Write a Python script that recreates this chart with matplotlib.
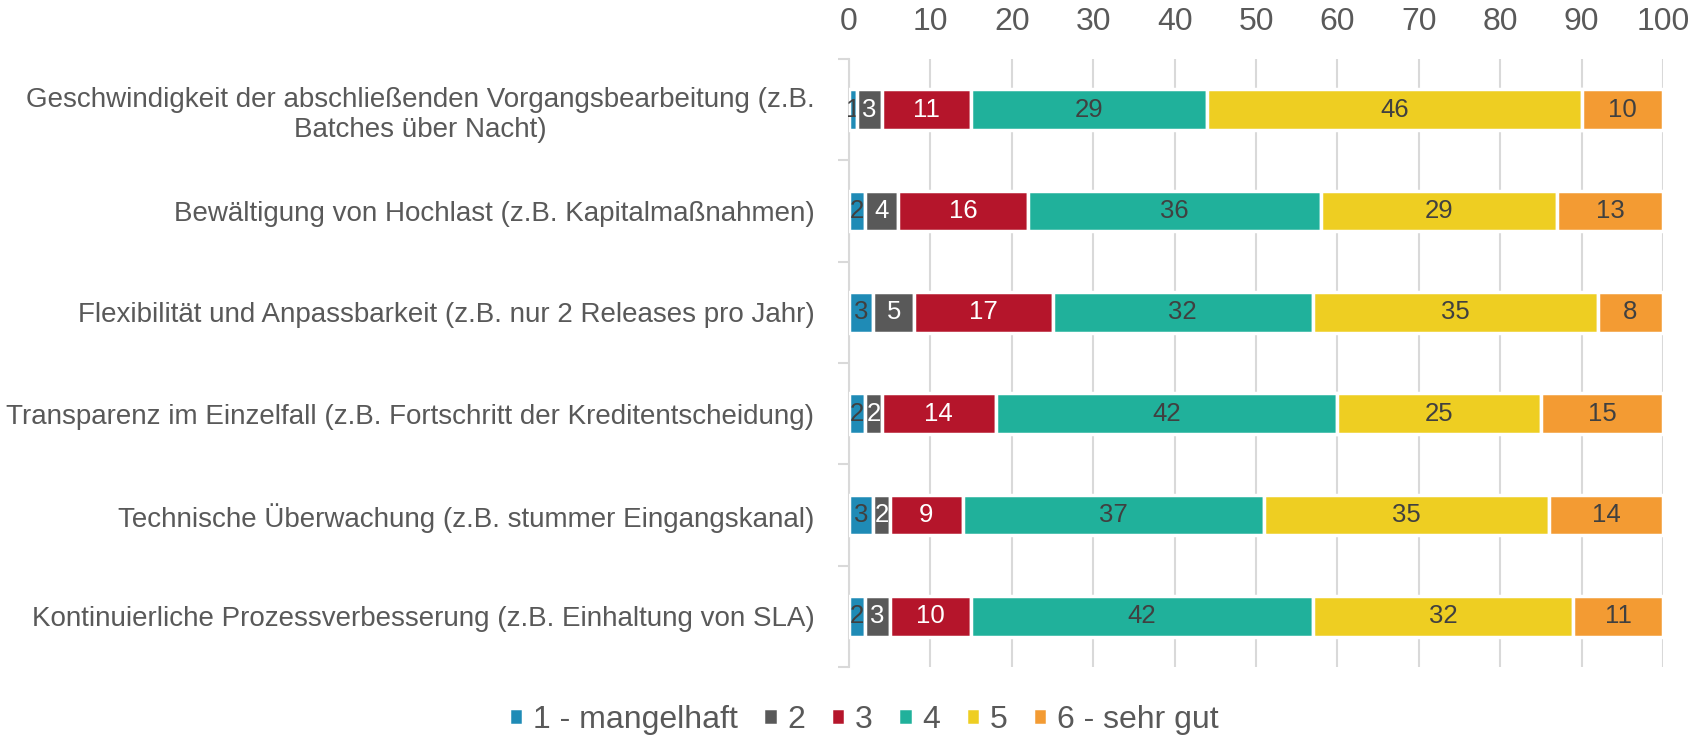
import matplotlib.pyplot as plt
import numpy as np

plt.rcParams['font.family'] = ['Liberation Sans', 'DejaVu Sans']

categories = [
    "Geschwindigkeit der abschließenden Vorgangsbearbeitung (z.B.\nBatches über Nacht)",
    "Bewältigung von Hochlast (z.B. Kapitalmaßnahmen)",
    "Flexibilität und Anpassbarkeit (z.B. nur 2 Releases pro Jahr)",
    "Transparenz im Einzelfall (z.B. Fortschritt der Kreditentscheidung)",
    "Technische Überwachung (z.B. stummer Eingangskanal)",
    "Kontinuierliche Prozessverbesserung (z.B. Einhaltung von SLA)",
]

serien = ["1 - mangelhaft", "2", "3", "4", "5", "6 - sehr gut"]

note_1 = [1, 2, 3, 2, 3, 2]
note_2 = [3, 4, 5, 2, 2, 3]
note_3 = [11, 16, 17, 14, 9, 10]
note_4 = [29, 36, 32, 42, 37, 42]
note_5 = [46, 29, 35, 25, 35, 32]
note_6 = [10, 13, 8, 15, 14, 11]

farben = ["#1F8BB6", "#595959", "#B5152B", "#20B19B", "#EECE22", "#F39B33"]
textfarben = ["#404040", "white", "white", "#404040", "#404040", "#404040"]

werte = [note_1, note_2, note_3, note_4, note_5, note_6]

fig = plt.figure(figsize=(17.07, 7.39), dpi=100)
ax = fig.add_axes([0.4974, 0.0974, 0.4768, 0.8228])

y = np.arange(len(categories))
links = np.zeros(len(categories))
for i, reihe in enumerate(werte):
    reihe = np.array(reihe, dtype=float)
    balken = ax.barh(y, reihe, left=links, height=0.4, color=farben[i],
                     edgecolor="white", linewidth=2.5, label=serien[i], zorder=3)
    ax.bar_label(balken, labels=[str(int(v)) for v in reihe], label_type="center",
                 color=textfarben[i], fontsize=18.5)
    links += reihe

ax.set_xlim(0, 100)
ax.set_ylim(len(categories) - 0.5, -0.5)
ax.set_xticks(np.arange(0, 101, 10))
ax.xaxis.tick_top()
ax.tick_params(axis="x", length=0, pad=15.5, labelsize=23, labelcolor="#595959")
ax.grid(axis="x", color="#D9D9D9", linewidth=1.5, zorder=0)

ax.set_yticks(y)
ax.set_yticklabels(categories)
ax.set_yticks(np.arange(-0.5, len(categories)), minor=True)
ax.tick_params(axis="y", which="major", length=0, pad=25, labelsize=20, labelcolor="#595959")
ax.tick_params(axis="y", which="minor", length=8, width=1.5, color="#D9D9D9")
for label in ax.get_yticklabels():
    label.set_multialignment("center")

for s in ["top", "right", "bottom"]:
    ax.spines[s].set_visible(False)
ax.spines["left"].set_color("#D9D9D9")
ax.spines["left"].set_linewidth(1.5)

fig.legend(loc="center", bbox_to_anchor=(0.506, 0.026), ncol=6, frameon=False,
           fontsize=23, labelcolor="#595959", handlelength=0.45, handleheight=0.45,
           handletextpad=0.3, columnspacing=0.8)

fig.savefig("out.png", dpi=100)
